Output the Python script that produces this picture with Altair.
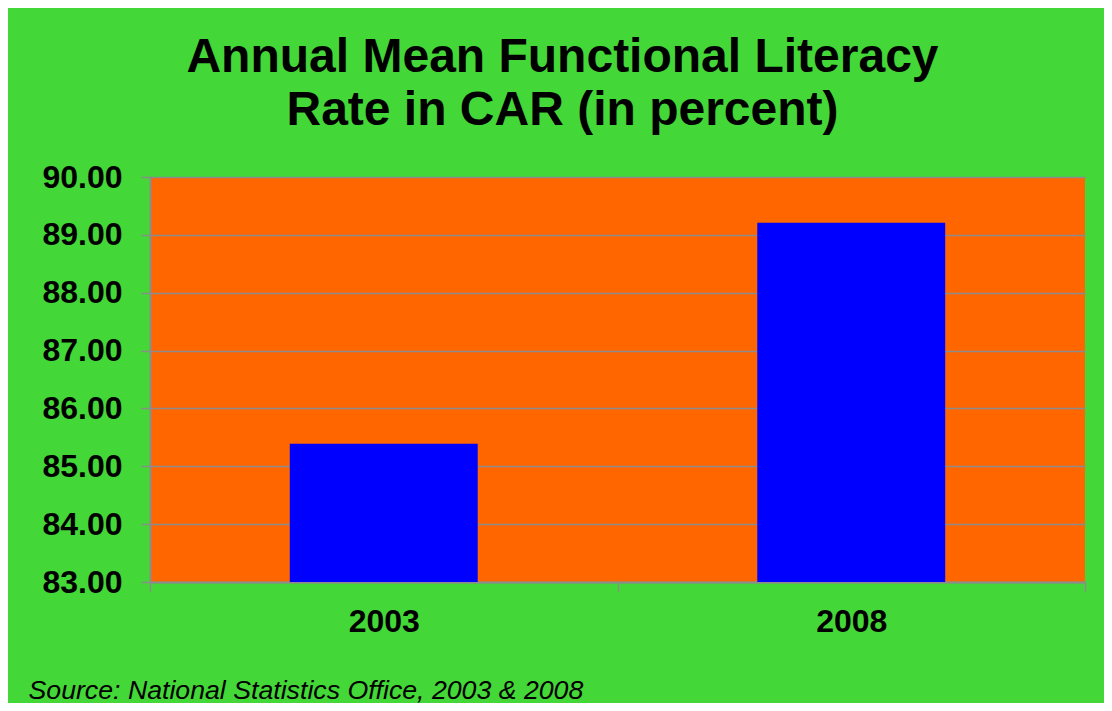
import altair as alt
import pandas as pd

years = ["2003", "2008"]
rates = [85.39, 89.21]
y_ticks = [83, 84, 85, 86, 87, 88, 89, 90]

df = pd.DataFrame({"year": years, "rate": rates})

FONT = "Liberation Sans"

chart = alt.Chart(df).mark_bar(
    color="#0000FF", width=alt.RelativeBandSize(0.402)
).encode(
    x=alt.X(
        "year:N",
        sort=years,
        scale=alt.Scale(paddingInner=0, paddingOuter=0),
        axis=alt.Axis(
            title="Source: National Statistics Office, 2003 & 2008",
            titleFont=FONT,
            titleFontSize=26.7,
            titleFontWeight="normal",
            titleFontStyle="italic",
            titleColor="black",
            titleAnchor="start",
            titleAlign="left",
            titleBaseline="alphabetic",
            titleX=-122,
            titleY=116,
            labelAngle=0,
            labelFont=FONT,
            labelFontSize=32,
            labelFontWeight="bold",
            labelColor="black",
            labelPadding=15,
            tickBand="extent",
            tickSize=9,
            tickColor="#8c8c8c",
            tickWidth=1.5,
            domainColor="#8c8c8c",
            domainWidth=2,
            grid=False,
        ),
    ),
    y=alt.Y(
        "rate:Q",
        scale=alt.Scale(domain=[83, 90], zero=False, nice=False),
        axis=alt.Axis(
            title=None,
            values=y_ticks,
            format=".2f",
            labelFont=FONT,
            labelFontSize=32,
            labelFontWeight="bold",
            labelColor="black",
            labelPadding=19,
            tickSize=9,
            tickColor="#8c8c8c",
            tickWidth=1.5,
            domainColor="#8c8c8c",
            domainWidth=2,
            grid=True,
            gridColor="#8c8c8c",
            gridWidth=1.5,
        ),
    ),
    y2=alt.datum(83),
).properties(
    width=935,
    height=405,
    title=alt.TitleParams(
        text=["Annual Mean Functional Literacy", "Rate in CAR (in percent)"],
        font=FONT,
        fontSize=48,
        fontWeight="bold",
        color="black",
        anchor="middle",
        lineHeight=53,
        offset=26,
        dx=-55,
    ),
    autosize=alt.AutoSizeParams(type="none"),
    padding={"left": 142, "top": 169, "right": 19, "bottom": 121},
).configure(
    background="#43D737",
).configure_view(
    fill="#FF6600",
    stroke=None,
)

chart.save("out.html", embed_options={"renderer": "svg", "actions": False})
